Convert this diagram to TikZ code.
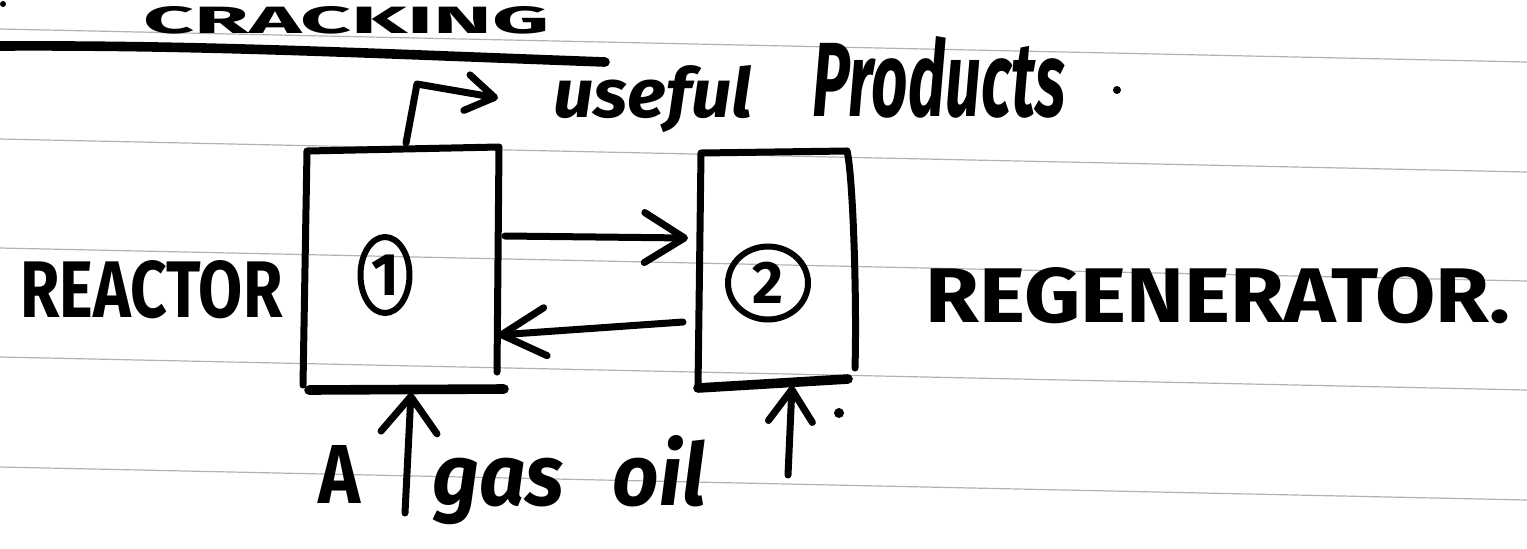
\documentclass[tikz,border=0pt]{standalone}
\usepackage{fontspec}
\setmainfont{Fira Sans}
\usetikzlibrary{shapes.geometric,arrows.meta}
\tikzset{
  ink/.style={line width=3.5pt, line cap=round, line join=round},
  heavy/.style={line width=4.8pt, line cap=round, line join=round},
  rule/.style={line width=0.6pt, black!30},
  lbl/.style={inner sep=0pt, anchor=base west},
  badge/.style={ellipse, draw, line width=3pt, inner sep=0pt,
    font=\bfseries\fontsize{30}{30}\selectfont},
}
\begin{document}
\begin{tikzpicture}[x=0.5pt,y=-0.5pt]
\useasboundingbox (0,0) rectangle (1527,548);
\clip (0,0) rectangle (1527,548);

% notebook rulings
\foreach \y in {29,139,248,357,467}
  \draw[rule] (0,\y) -- (1527,\y+33);

% heading and its underline
\fill (3,4) circle (3);
\node[lbl] (title) at (143,33) {\resizebox{203pt}{13.5pt}{\bfseries CRACKING}};
\coordinate (ul-a) at (0,46);
\coordinate (ul-b) at (605,62);
\draw[heavy] (ul-a) .. controls (200,45) and (360,53) .. (ul-b);

% reactor vessel
\coordinate (r-bl) at (303,385);
\coordinate (r-tl) at (307,151);
\coordinate (r-tr) at (499,147);
\coordinate (r-br) at (497,372);
\draw[ink] (r-bl) -- (r-tl) -- (r-tr) -- (r-br);
\coordinate (r-b1) at (309,390);
\coordinate (r-b2) at (504,389);
\draw[heavy] (r-b1) -- (r-b2);
\node[badge, minimum width=24.5pt, minimum height=38pt] (n1) at (385,275) {1};

% regenerator vessel
\coordinate (g-bl) at (698,388);
\coordinate (g-tl) at (701,153);
\coordinate (g-tr) at (847,151);
\coordinate (g-rb) at (855,368);
\coordinate (g-br) at (848,379);
\draw[ink] (g-tr) -- (g-tl) -- (g-bl);
\draw[ink] (g-tr) .. controls (853,175) and (857,300) .. (g-rb);
\draw[heavy] (g-bl) -- (g-br);
\node[badge, minimum width=40pt, minimum height=36.5pt] (n2) at (768,283) {2};

% product take-off from the reactor top
\coordinate (hook-0) at (406,143);
\coordinate (hook-1) at (417,84);
\coordinate (hook-2) at (498,98);
\draw[ink, -{Straight Barb[round,length=14pt,width=18pt]}] (hook-0) -- (hook-1) -- (hook-2);

% catalyst circulation between the vessels
\coordinate (c-out) at (505,236);
\coordinate (c-in) at (688,238);
\draw[ink, -{Straight Barb[round,length=20pt,width=25pt]}] (c-out) -- (c-in);
\coordinate (d-out) at (683,322);
\coordinate (d-in) at (498,335);
\draw[ink, -{Straight Barb[round,length=22pt,width=24pt]}] (d-out) -- (d-in);

% feeds from below
\coordinate (f1-a) at (405,513);
\coordinate (f1-b) at (411,393);
\draw[ink, -{Straight Barb[round,length=18pt,width=28pt]}] (f1-a) -- (f1-b);
\coordinate (f2-a) at (788,475);
\coordinate (f2-b) at (792,386);
\draw[ink, -{Straight Barb[round,length=16pt,width=22pt]}] (f2-a) -- (f2-b);
\fill (839,413) circle (5);

% labels
\node[lbl] (lab-reactor) at (20,317) {\resizebox{131pt}{28.5pt}{\bfseries REACTOR}};
\node[lbl] (lab-regen) at (925,322) {\resizebox{292.5pt}{27.5pt}{\bfseries REGENERATOR.}};
\node[lbl] (lab-useful) at (553,117) {\resizebox{99.5pt}{26pt}{\bfseries\itshape useful}};
\node[lbl] (lab-prod) at (812,116) {\resizebox{126.5pt}{40pt}{\bfseries\itshape Products}};
\fill (1117,90) circle (4);
\node[lbl] (lab-a) at (318,503) {\resizebox{21pt}{29pt}{\bfseries A}};
\node[lbl] (lab-feed) at (432,505) {\resizebox{136.5pt}{35pt}{\bfseries\itshape gas\hspace{0.6em}oil}};
\end{tikzpicture}
\end{document}
